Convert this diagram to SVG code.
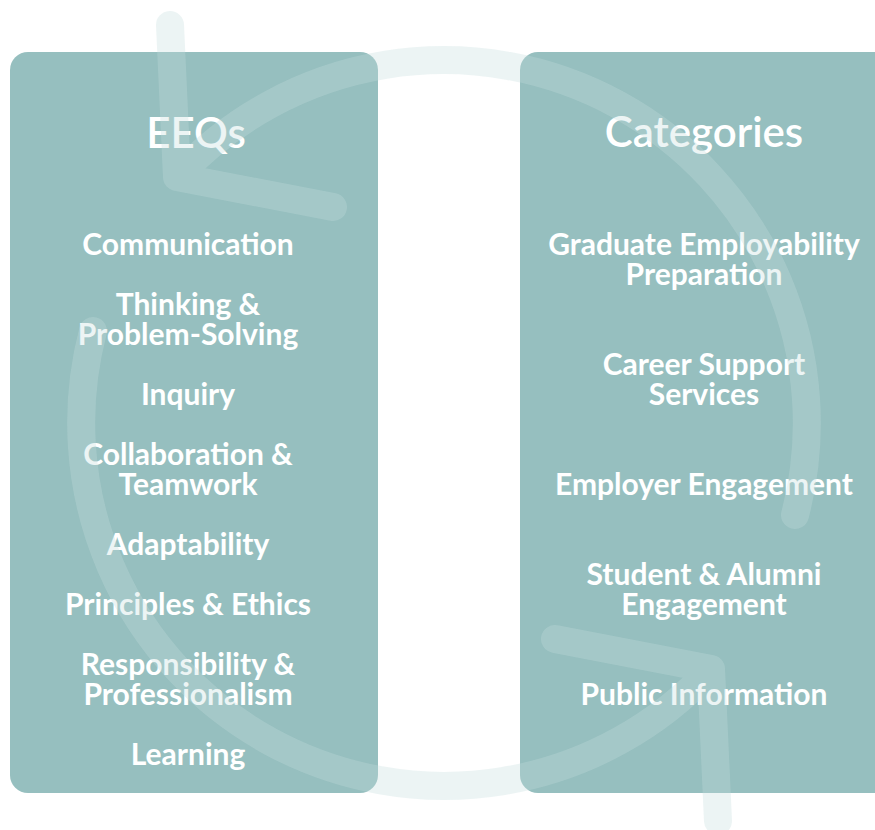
<svg xmlns="http://www.w3.org/2000/svg" width="875" height="830" viewBox="0 0 875 830">
<style>
.box{fill:#96bfbf}
.t{font-family:Lato,"Open Sans","Liberation Sans",sans-serif;fill:#ffffff;text-anchor:middle}
.title{font-size:42px;font-weight:600}
.item{font-size:30px;font-weight:700}
.ring{fill:none;stroke:#c4dddd;stroke-opacity:0.32;stroke-width:28;stroke-linecap:round;stroke-linejoin:round}
</style>
<rect width="875" height="830" fill="#ffffff"/>
<g id="eeqs">
<rect class="box" x="10" y="52" width="368" height="741" rx="18"/>
<text class="t title" x="196" y="148">EEQs</text>
<text class="t item" x="188" y="255">Communication</text>
<text class="t item" x="188" y="315">Thinking &amp;<tspan x="188" dy="30">Problem-Solving</tspan></text>
<text class="t item" x="188" y="405">Inquiry</text>
<text class="t item" x="188" y="465">Collaboration &amp;<tspan x="188" dy="30">Teamwork</tspan></text>
<text class="t item" x="188" y="555">Adaptability</text>
<text class="t item" x="188" y="615">Principles &amp; Ethics</text>
<text class="t item" x="188" y="675">Responsibility &amp;<tspan x="188" dy="30">Professionalism</tspan></text>
<text class="t item" x="188" y="765">Learning</text>
</g>
<g id="categories">
<rect class="box" x="520" y="52" width="380" height="741" rx="18"/>
<text class="t title" x="704" y="147">Categories</text>
<text class="t item" x="704" y="255">Graduate Employability<tspan x="704" dy="30">Preparation</tspan></text>
<text class="t item" x="704" y="375">Career Support<tspan x="704" dy="30">Services</tspan></text>
<text class="t item" x="704" y="495">Employer Engagement</text>
<text class="t item" x="704" y="585">Student &amp; Alumni<tspan x="704" dy="30">Engagement</tspan></text>
<text class="t item" x="704" y="705">Public Information</text>
</g>
<g id="connectors">
<path class="ring" d="M170,25 L177,177 L333,207 M177,177 A363,363 0 0 1 795,515"/>
<path class="ring" d="M170,25 L177,177 L333,207 M177,177 A363,363 0 0 1 795,515" transform="rotate(180 444 423)"/>
</g>
</svg>
